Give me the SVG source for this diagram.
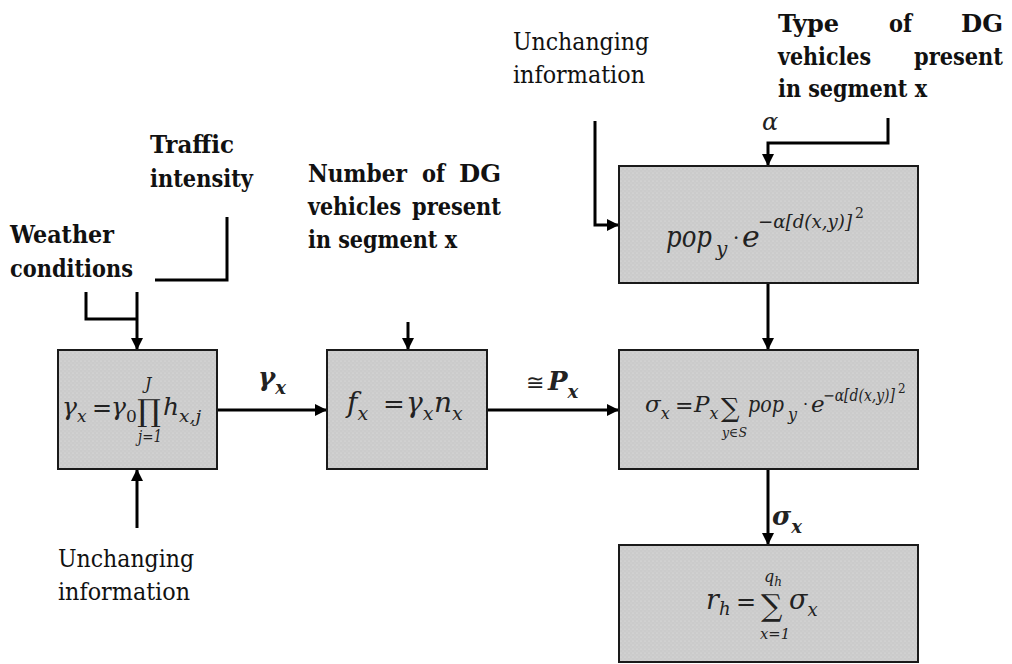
<svg xmlns="http://www.w3.org/2000/svg" width="1012" height="664" viewBox="0 0 1012 664">
<style>
.box{fill:url(#tex);stroke:#1a1a1a;stroke-width:2}
.conn{fill:none;stroke:#000;stroke-width:3}
.lbl{font-family:'DejaVu Serif Condensed','DejaVu Serif',serif;font-stretch:condensed;font-size:25px;fill:#111}
.b{font-weight:bold}
.m{font-family:'DejaVu Serif','Liberation Serif',serif;font-style:italic;fill:#222}
.u{font-family:'DejaVu Serif','Liberation Serif',serif;font-style:normal;fill:#222}
</style>
<defs>
<pattern id="tex" width="4" height="4" patternUnits="userSpaceOnUse">
<rect width="4" height="4" fill="#cbcbcb"/>
<circle cx="1" cy="1" r="0.6" fill="#e2e2e2"/>
<circle cx="3" cy="3" r="0.5" fill="#d8d8d8"/>
</pattern>
<marker id="arr" markerUnits="userSpaceOnUse" markerWidth="12" markerHeight="12" refX="12" refY="6" orient="auto">
<path d="M0,0 L12,6 L0,12 z" fill="#000"/>
</marker>
</defs>

<g id="connectors">
<path class="conn" d="M86,292 V319 H137"/>
<path class="conn" d="M227,217 V280 H155"/>
<path class="conn" d="M137,292 V350" marker-end="url(#arr)"/>
<path class="conn" d="M137,528 V469" marker-end="url(#arr)"/>
<path class="conn" d="M217,410 H327" marker-end="url(#arr)"/>
<path class="conn" d="M408,322 V350" marker-end="url(#arr)"/>
<path class="conn" d="M487,410 H619" marker-end="url(#arr)"/>
<path class="conn" d="M595,121 V225 H619" marker-end="url(#arr)"/>
<path class="conn" d="M888,118 V143 H768 V166" marker-end="url(#arr)"/>
<path class="conn" d="M768,283 V350" marker-end="url(#arr)"/>
<path class="conn" d="M768,469 V545" marker-end="url(#arr)"/>
<text class="m b" font-size="26" x="258" y="386">γ<tspan font-size="18" dy="8">x</tspan></text>
<text class="u" font-size="22" x="526" y="390">≅</text>
<text class="m b" font-size="26" x="548" y="390">P<tspan font-size="18" dy="8">x</tspan></text>
<text class="m b" font-size="26" x="772" y="525">σ<tspan font-size="18" dy="8">x</tspan></text>
<text class="m" font-size="24" x="762" y="130">α</text>
</g>

<g id="label-traffic" class="lbl b">
<text x="150" y="153" textLength="84" lengthAdjust="spacingAndGlyphs">Traffic</text>
<text x="150" y="187" textLength="103" lengthAdjust="spacingAndGlyphs">intensity</text>
</g>
<g id="label-weather" class="lbl b">
<text x="10" y="243" textLength="104" lengthAdjust="spacingAndGlyphs">Weather</text>
<text x="10" y="277" textLength="123" lengthAdjust="spacingAndGlyphs">conditions</text>
</g>
<g id="label-number" class="lbl b">
<text x="308" y="182" textLength="99" lengthAdjust="spacingAndGlyphs">Number</text>
<text x="422" y="182" textLength="23" lengthAdjust="spacingAndGlyphs">of</text>
<text x="459" y="182" textLength="42" lengthAdjust="spacingAndGlyphs">DG</text>
<text x="308" y="215" textLength="93" lengthAdjust="spacingAndGlyphs">vehicles</text>
<text x="412" y="215" textLength="89" lengthAdjust="spacingAndGlyphs">present</text>
<text x="308" y="248" textLength="149" lengthAdjust="spacingAndGlyphs">in segment x</text>
</g>
<g id="label-unchanging-top" class="lbl">
<text x="513" y="50" textLength="136" lengthAdjust="spacingAndGlyphs">Unchanging</text>
<text x="513" y="83" textLength="132" lengthAdjust="spacingAndGlyphs">information</text>
</g>
<g id="label-type" class="lbl b">
<text x="778" y="32" textLength="61" lengthAdjust="spacingAndGlyphs">Type</text>
<text x="889" y="32" textLength="23" lengthAdjust="spacingAndGlyphs">of</text>
<text x="961" y="32" textLength="42" lengthAdjust="spacingAndGlyphs">DG</text>
<text x="778" y="65" textLength="93" lengthAdjust="spacingAndGlyphs">vehicles</text>
<text x="914" y="65" textLength="89" lengthAdjust="spacingAndGlyphs">present</text>
<text x="778" y="97" textLength="149" lengthAdjust="spacingAndGlyphs">in segment x</text>
</g>
<g id="label-unchanging-bottom" class="lbl">
<text x="58" y="567" textLength="136" lengthAdjust="spacingAndGlyphs">Unchanging</text>
<text x="58" y="600" textLength="132" lengthAdjust="spacingAndGlyphs">information</text>
</g>

<g id="node-gamma">
<rect class="box" x="58" y="350" width="159" height="119"/>
<text class="m" font-size="25" x="62" y="415">γ<tspan font-size="17" dy="7">x</tspan></text>
<text class="u" font-size="24" x="92" y="416">=</text>
<text class="m" font-size="25" x="111" y="415">γ<tspan class="u" font-size="17" dy="7">0</tspan></text>
<text class="u" font-size="30" x="137" y="421">∏</text>
<text class="m" font-size="16" x="145" y="389">J</text>
<text class="m" font-size="16" x="138" y="442" textLength="24" lengthAdjust="spacingAndGlyphs">j=1</text>
<text class="m" font-size="25" x="163" y="415">h<tspan font-size="17" dy="7" textLength="22" lengthAdjust="spacingAndGlyphs">x,j</tspan></text>
</g>

<g id="node-f">
<rect class="box" x="327" y="350" width="160" height="119"/>
<text class="m" font-size="28" x="347" y="412">f<tspan font-size="19" dy="8">x</tspan></text>
<text class="u" font-size="26" x="383" y="413">=</text>
<text class="m" font-size="28" x="406" y="412">γ<tspan font-size="19" dy="8">x</tspan></text>
<text class="m" font-size="28" x="434" y="412">n<tspan font-size="19" dy="8">x</tspan></text>
</g>

<g id="node-pop">
<rect class="box" x="619" y="166" width="299" height="117"/>
<text class="m" font-size="30" x="666" y="247"><tspan textLength="46" lengthAdjust="spacingAndGlyphs">pop</tspan><tspan font-size="20" dx="4" dy="9">y</tspan></text>
<text class="u" font-size="20" x="733" y="245">·</text>
<text class="m" font-size="30" x="742" y="247">e</text>
<text class="m" font-size="19" x="758" y="228"><tspan textLength="94" lengthAdjust="spacingAndGlyphs">−α[d(x,y)]</tspan><tspan class="u" font-size="14" dx="3" dy="-10">2</tspan></text>
</g>

<g id="node-sigma">
<rect class="box" x="619" y="350" width="299" height="119"/>
<text class="m" font-size="23" x="645" y="412">σ<tspan font-size="16" dy="7">x</tspan></text>
<text class="u" font-size="22" x="675" y="413">=</text>
<text class="m" font-size="23" x="694" y="412">P<tspan font-size="16" dy="7">x</tspan></text>
<text class="u" font-size="26" x="721" y="417">∑</text>
<text class="m" font-size="13" x="722" y="437" textLength="25" lengthAdjust="spacingAndGlyphs">y∈S</text>
<text class="m" font-size="23" x="748" y="412"><tspan textLength="36" lengthAdjust="spacingAndGlyphs">pop</tspan><tspan font-size="16" dx="4" dy="8">y</tspan></text>
<text class="u" font-size="16" x="803" y="410">·</text>
<text class="m" font-size="23" x="811" y="412">e</text>
<text class="m" font-size="16" x="823" y="401"><tspan textLength="72" lengthAdjust="spacingAndGlyphs">−α[d(x,y)]</tspan><tspan class="u" font-size="12" dx="3" dy="-8">2</tspan></text>
</g>

<g id="node-r">
<rect class="box" x="619" y="545" width="299" height="117"/>
<text class="m" font-size="27" x="706" y="609">r<tspan font-size="18" dy="6">h</tspan></text>
<text class="u" font-size="24" x="736" y="610">=</text>
<text class="u" font-size="30" x="761" y="616">∑</text>
<text class="m" font-size="16" x="764" y="582">q<tspan font-size="12" dy="4">h</tspan></text>
<text class="m" font-size="15" x="760" y="639" textLength="30" lengthAdjust="spacingAndGlyphs">x=1</text>
<text class="m" font-size="27" x="789" y="609">σ<tspan font-size="18" dy="7">x</tspan></text>
</g>
</svg>
